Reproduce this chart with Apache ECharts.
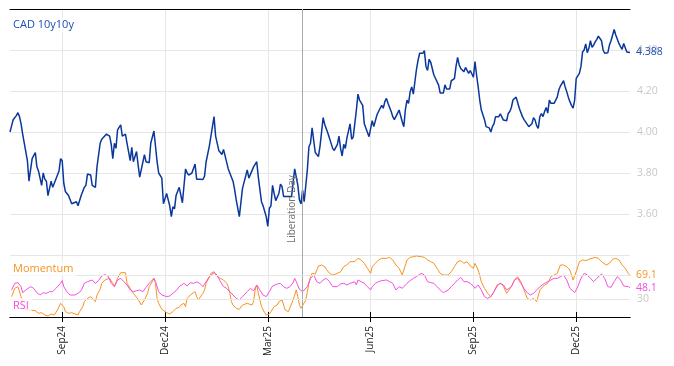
<!DOCTYPE html>
<html><head><meta charset="utf-8">
<script src="https://cdn.jsdelivr.net/npm/echarts@6/dist/echarts.min.js"></script>
<style>html,body{margin:0;padding:0;background:#fff}#c{width:674px;height:366px}</style>
</head><body><div id="c"></div>
<script>
const _ = null;
const startDate = '2024-07-17', endDate = '2026-01-16';
const tickLabels = ['Sep24','Dec24','Mar25','Jun25','Sep25','Dec25'];
const eventDate = '2025-04-02', eventLabel = 'Liberation Day';
const yTicksMain = [3.6, 3.8, 4.0, 4.2, 4.4];
const oscLines = [30, 70];

const cad = [
4.00,4.03,4.06,4.06,4.08,4.094,4.075,4.04,3.99,_,
_,3.86,3.76,3.76,3.87,_,3.90,3.83,3.81,_,
3.74,3.80,3.77,3.76,3.69,_,3.76,3.73,3.75,_,
_,3.81,3.87,3.86,3.75,3.71,_,3.69,_,3.65,
3.655,_,3.66,3.64,3.635,3.69,_,3.73,3.74,3.795,
_,3.79,3.74,_,3.73,3.83,_,3.945,3.965,3.97,
_,3.99,_,3.98,3.94,3.87,3.945,3.92,4.01,4.01,
4.035,3.98,_,3.99,3.945,_,3.86,3.925,3.855,_,
3.905,3.84,3.78,3.78,_,3.89,3.855,3.86,3.85,3.945,
_,4.005,_,3.855,3.80,_,3.775,3.65,3.65,3.70,
_,3.64,3.587,3.635,3.625,3.69,_,3.73,3.73,3.655,
_,3.82,3.80,3.79,_,3.80,3.80,3.844,3.77,_,
3.77,_,3.768,3.785,3.855,_,3.93,_,4.026,4.075,
3.98,_,3.91,_,3.89,3.915,3.915,_,3.82,3.82,
_,3.76,3.72,3.67,_,3.587,3.587,3.725,3.725,_,
3.815,3.775,3.775,_,3.83,3.83,3.855,3.78,_,3.66,
3.64,_,3.587,3.54,3.628,3.64,3.74,3.70,3.665,_,
3.70,3.746,3.733,3.685,3.68,_,3.685,_,3.685,3.753,
3.82,3.815,3.74,3.668,3.649,3.717,3.66,_,3.815,3.928,
3.945,4.02,4.015,3.90,_,3.88,3.93,3.93,4.07,4.037,
4.037,3.994,3.97,_,3.92,3.91,_,3.94,3.98,3.92,
3.883,3.94,3.92,3.97,3.977,4.04,3.965,3.975,3.975,4.107,
4.185,4.156,_,4.13,4.04,4.035,_,3.977,3.985,4.055,
4.026,4.026,4.083,4.10,4.105,4.13,4.116,4.148,4.164,4.14,
_,4.10,4.075,4.06,4.063,_,4.107,4.10,4.05,4.026,
4.11,4.156,4.14,4.197,4.22,4.185,4.245,4.306,4.35,4.384,
_,4.384,4.397,4.32,4.30,4.355,4.34,4.34,4.278,4.278,
_,4.229,4.19,4.19,4.19,4.23,4.21,_,4.21,4.25,
4.25,4.26,4.32,4.364,4.327,4.31,4.315,4.294,4.315,4.315,
4.286,4.30,_,4.267,4.343,4.278,4.22,4.156,4.107,4.107,
4.06,4.026,4.03,4.02,4.00,4.026,4.04,4.075,4.083,4.075,
4.088,4.08,4.058,_,4.055,4.09,4.10,4.12,4.156,4.148,
4.17,4.165,4.116,4.11,4.075,4.06,4.055,_,4.026,4.03,
4.04,4.07,4.058,4.03,4.018,4.075,4.09,4.075,4.10,4.12,
4.092,4.156,4.14,4.145,4.14,4.14,4.17,4.205,4.224,_,
4.25,4.22,4.197,4.17,4.148,4.13,4.116,4.156,4.262,4.27,
4.286,4.32,4.39,4.40,4.43,4.387,4.408,4.445,4.413,4.424,
4.44,4.452,4.468,_,4.445,4.40,4.384,4.384,4.387,4.424,
4.445,_,4.50,4.473,4.468,4.432,4.416,4.403,4.432,4.43,
4.39,4.392,4.388];

const momentum = [
_,33.8,_,47.6,_,50.4,_,33.8,19.9,_,
11.6,_,_,11.6,_,_,10.5,_,6.1,_,
7.2,_,3.3,_,1.7,_,5.0,_,3.3,_,
11.6,_,22.7,25.5,17.2,8.9,_,6.1,_,7.2,
_,5.0,_,3.3,8.9,_,17.2,25.5,_,31.0,
_,33.8,31.0,_,25.5,36.5,_,46.0,55.9,_,
61.5,62.6,_,64.2,_,55.9,50.4,_,64.2,_,
73.6,72.5,_,73.6,55.9,_,47.6,_,39.3,36.5,
_,29.4,28.2,19.9,17.2,28.2,_,39.3,50.4,_,
58.7,64.2,55.9,31.0,22.7,_,12.7,10.5,_,7.2,
_,5.0,_,8.9,11.6,14.4,_,16.1,19.9,_,
22.7,17.2,31.0,_,36.5,39.3,_,42.1,33.8,28.2,
28.2,_,39.3,44.9,55.9,_,65.9,72.5,_,75.3,
75.3,67.0,_,64.2,67.0,61.5,_,55.9,50.4,39.3,
25.5,19.9,_,14.4,_,12.7,_,19.9,_,_,
22.7,23.8,_,19.9,25.5,44.9,53.2,39.3,_,17.2,
_,7.2,3.3,_,5.0,8.9,_,17.2,_,19.9,
25.5,_,28.2,25.5,11.6,_,8.9,11.6,_,28.2,
36.5,44.9,33.8,19.9,14.4,12.7,_,28.2,42.1,55.9,
67.0,72.5,_,71.4,78.1,84.7,_,86.4,_,83.6,
79.2,_,72.5,_,69.8,71.4,71.4,69.8,_,75.0,
_,83.6,_,86.4,_,91.9,_,_,91.9,_,
97.5,_,94.7,_,89.2,_,80.8,_,72.5,83.6,
_,89.2,_,94.7,_,97.5,_,_,97.5,_,
99.1,_,94.7,_,86.4,_,80.8,_,69.8,71.0,
_,94.7,_,99.1,_,100.2,_,101.3,_,_,
100.2,_,99.1,_,94.7,_,91.9,_,89.2,_,
80.8,_,72.5,_,69.8,_,_,69.8,_,75.3,
_,83.6,_,91.9,_,93.6,_,89.2,_,91.9,
_,84.7,_,80.8,89.2,_,78.1,_,58.7,_,
47.6,_,39.3,_,33.8,_,42.1,_,53.2,_,
55.9,_,51.5,44.9,39.3,_,_,50.4,_,61.5,
_,67.0,_,58.7,_,44.9,_,31.0,_,28.2,
_,31.0,_,25.5,_,44.9,_,_,53.2,_,
55.9,_,67.0,_,69.8,_,72.5,_,86.4,_,
86.4,_,83.6,_,78.1,_,61.5,_,75.3,_,
91.9,_,94.7,_,93.6,_,95.8,_,97.5,_,
99.1,_,97.5,_,91.9,_,_,86.4,_,89.2,
_,95.8,_,97.5,_,94.7,_,86.4,_,80.8,
_,72.0,69.1];

const rsi = [
_,44.9,_,55.9,_,57.0,_,50.4,40.4,_,
44.9,_,_,50.4,_,47.6,_,40.4,_,36.5,
_,40.4,_,39.3,_,42.1,_,42.1,_,47.6,
_,_,55.9,60.4,50.4,_,42.1,_,36.5,_,
_,36.5,_,39.3,_,43.7,_,55.9,_,58.7,
_,_,61.5,_,55.9,_,60.4,_,68.1,_,
70.3,_,68.1,_,55.9,_,50.4,_,61.5,_,
64.2,_,58.7,_,53.2,_,44.9,_,42.1,_,
43.7,_,44.9,_,42.1,_,49.3,_,55.9,_,
_,64.2,58.7,_,42.1,_,36.5,_,_,33.8,
_,34.9,_,39.3,_,43.7,_,50.4,_,_,
55.9,_,51.5,_,57.0,_,55.9,_,58.2,_,
55.9,_,50.4,_,58.7,_,67.0,_,_,73.6,
_,69.8,_,58.7,_,50.4,_,47.6,_,42.1,
_,36.5,_,31.0,_,28.2,_,33.8,_,_,
42.1,_,47.6,_,43.7,_,53.2,_,44.9,_,
36.5,_,33.8,_,42.1,_,51.5,_,_,54.8,
_,55.9,_,50.4,_,47.6,_,50.4,_,57.0,
64.2,58.7,_,45.9,_,42.1,_,_,50.4,_,
64.2,_,69.8,_,58.7,_,55.9,_,61.5,_,
64.2,_,58.7,_,50.4,47.6,_,50.4,_,55.0,
_,55.9,_,53.2,_,55.9,_,_,58.7,53.2,
61.5,_,58.7,_,55.9,_,50.4,_,44.9,50.4,
_,55.9,_,58.7,_,60.4,_,_,61.5,_,
58.7,_,55.9,_,44.9,_,50.4,_,47.6,44.9,
_,55.9,_,60.4,_,64.2,_,67.0,_,_,
72.5,_,69.8,_,58.7,_,57.0,_,55.9,_,
50.4,_,44.9,_,40.4,_,_,44.9,_,50.4,
_,55.9,_,61.5,_,65.9,_,58.7,_,58.7,
_,55.9,_,51.5,47.6,_,53.2,_,44.9,_,
33.8,_,31.0,_,33.8,_,42.1,_,51.5,_,
55.9,_,53.2,_,44.9,_,_,50.4,_,61.5,
_,64.2,_,55.9,_,47.6,_,40.4,_,36.5,
_,39.3,_,44.9,_,50.4,_,_,55.9,_,
58.7,_,61.5,_,64.2,_,64.2,_,67.0,_,
69.8,_,61.5,_,47.6,_,_,40.4,_,50.4,
_,64.2,_,72.5,_,69.8,_,64.2,_,58.7,
_,64.2,_,_,71.4,_,64.2,_,50.4,_,
49.3,_,58.7,_,67.0,_,61.5,_,51.5,_,
_,50.4,48.1];

// business-day categories
const dates = [];
for (let d = new Date(startDate + 'T00:00:00Z'); d <= new Date(endDate + 'T00:00:00Z'); d.setUTCDate(d.getUTCDate() + 1)) {
  const w = d.getUTCDay();
  if (w !== 0 && w !== 6) dates.push(d.toISOString().slice(0, 10));
}
const MON = ['Jan','Feb','Mar','Apr','May','Jun','Jul','Aug','Sep','Oct','Nov','Dec'];
const tickIdx = {};
tickLabels.forEach(l => {
  const m = MON.indexOf(l.slice(0, 3)) + 1;
  const p = '20' + l.slice(3) + '-' + String(m).padStart(2, '0');
  const i = dates.findIndex(d => d.startsWith(p));
  if (i >= 0) tickIdx[i] = l;
});
const isTick = (i) => tickIdx[i] !== undefined;

const FONT = 'Open Sans';
const BLUE = '#0a379c', BLUE_TXT = '#1d4db3', ORANGE = '#f7931e', MAGENTA = '#f54fdf';
const gridCol = '#e6e6e6', axisLblCol = '#c8c8c8';

const chart = echarts.init(document.getElementById('c'), null, {renderer: 'canvas'});
const xBase = (gi) => ({type: 'category', gridIndex: gi, data: dates, boundaryGap: false});
chart.setOption({
  animation: false,
  textStyle: {fontFamily: FONT},
  title: [
    {text: 'CAD 10y10y', left: 10, top: 17, padding: [2, 3], backgroundColor: 'rgba(255,255,255,0.8)',
     textStyle: {fontSize: 11, fontWeight: 'normal', color: BLUE_TXT, fontFamily: FONT}},
    {text: 'Momentum', left: 10, top: 261, padding: [2, 3], backgroundColor: 'rgba(255,255,255,0.7)',
     textStyle: {fontSize: 11, fontWeight: 'normal', color: ORANGE, fontFamily: FONT}},
    {text: 'RSI', left: 10, top: 298, padding: [2, 3], backgroundColor: 'rgba(255,255,255,0.7)',
     textStyle: {fontSize: 11, fontWeight: 'normal', color: MAGENTA, fontFamily: FONT}}
  ],
  grid: [
    {left: 10, right: 44, top: 9, height: 246},
    {left: 10, right: 44, top: 255, height: 62}
  ],
  xAxis: [
    Object.assign(xBase(0), {position: 'top',
      axisLine: {show: true, lineStyle: {color: '#000', width: 1}},
      axisTick: {show: false}, axisLabel: {show: false},
      splitLine: {show: true, interval: (i) => isTick(i), lineStyle: {color: gridCol, width: 1}}}),
    Object.assign(xBase(1), {position: 'top',
      axisLine: {show: true, lineStyle: {color: '#000', width: 1}},
      axisTick: {show: true, interval: (i) => isTick(i), length: 5, lineStyle: {color: '#000'}},
      axisLabel: {show: false},
      splitLine: {show: true, interval: (i) => isTick(i), lineStyle: {color: gridCol, width: 1}}}),
    Object.assign(xBase(1), {position: 'bottom',
      axisLine: {show: true, lineStyle: {color: '#000', width: 1}},
      axisTick: {show: true, interval: (i) => isTick(i), length: 5, lineStyle: {color: '#000'}},
      axisLabel: {show: true, interval: (i) => isTick(i), rotate: 90, margin: 9,
        formatter: (v, i) => tickIdx[i] || '', color: '#222', fontSize: 10, fontFamily: FONT},
      splitLine: {show: false}})
  ],
  yAxis: [
    {type: 'value', gridIndex: 0, position: 'right', min: 3.4, max: 4.6, interval: 0.2,
     axisLine: {show: false}, axisTick: {show: false},
     axisLabel: {color: axisLblCol, fontSize: 10.5, margin: 7, showMinLabel: false, showMaxLabel: false,
       formatter: v => yTicksMain.some(t => Math.abs(t - v) < 1e-6) ? v.toFixed(2) : ''},
     splitLine: {lineStyle: {color: gridCol, width: 1}}},
    {type: 'value', gridIndex: 1, position: 'right', min: 0, max: 103,
     axisLine: {show: false}, axisTick: {show: false}, axisLabel: {show: false}, splitLine: {show: false}}
  ],
  series: [
    {type: 'line', name: 'CAD 10y10y', xAxisIndex: 0, yAxisIndex: 0, data: cad, connectNulls: true,
     showSymbol: false, symbol: 'none', z: 3,
     lineStyle: {color: BLUE, width: 1.5}, itemStyle: {color: BLUE},
     endLabel: {show: true, formatter: p => Number(p.value).toFixed(3), color: BLUE_TXT, fontSize: 10.5, distance: 6, fontFamily: FONT},
     markLine: {silent: true, symbol: ['none', 'none'], animation: false,
       lineStyle: {color: '#a8a8a8', type: 'solid', width: 1},
       label: {show: true, formatter: eventLabel, position: 'insideStartTop', distance: [12, 5], color: '#707070', fontSize: 10, fontFamily: FONT},
       data: [{xAxis: eventDate}]}},
    {type: 'line', name: 'Momentum', xAxisIndex: 1, yAxisIndex: 1, data: momentum, connectNulls: true,
     showSymbol: false, symbol: 'none', z: 3,
     lineStyle: {color: ORANGE, width: 1}, itemStyle: {color: ORANGE},
     endLabel: {show: true, formatter: p => Number(p.value).toFixed(1), color: ORANGE, fontSize: 10.5, distance: 6, fontFamily: FONT},
     markLine: {silent: true, symbol: ['none', 'none'], animation: false,
       data: [
         {xAxis: eventDate, lineStyle: {color: '#a8a8a8', type: 'solid', width: 1}, label: {show: false}},
         {yAxis: oscLines[0], lineStyle: {color: gridCol, type: 'solid', width: 1},
          label: {show: true, position: 'end', formatter: String(oscLines[0]), color: axisLblCol, fontSize: 10.5, distance: 7, fontFamily: FONT}},
         {yAxis: oscLines[1], lineStyle: {color: gridCol, type: 'solid', width: 1}, label: {show: false}}
       ]}},
    {type: 'line', name: 'RSI', xAxisIndex: 1, yAxisIndex: 1, data: rsi, connectNulls: true,
     showSymbol: false, symbol: 'none', z: 4,
     lineStyle: {color: MAGENTA, width: 1}, itemStyle: {color: MAGENTA},
     endLabel: {show: true, formatter: p => Number(p.value).toFixed(1), color: MAGENTA, fontSize: 10.5, distance: 6, fontFamily: FONT}}
  ]
});
</script></body></html>
